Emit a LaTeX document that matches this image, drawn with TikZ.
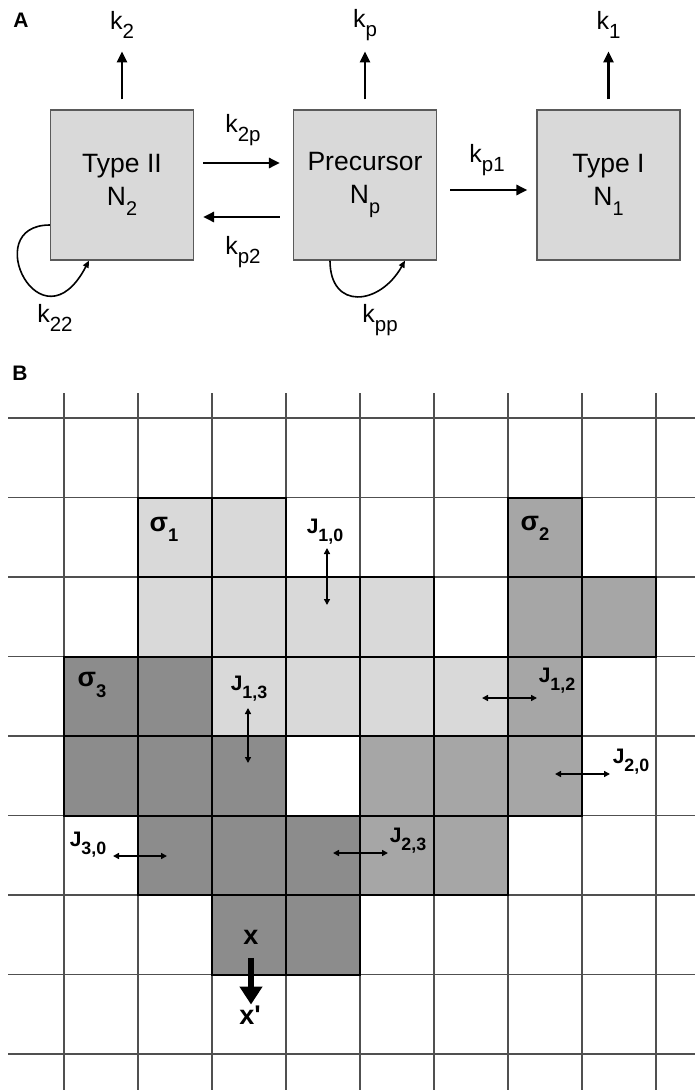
\documentclass[tikz,border=0pt]{standalone}
\usepackage{fontspec}
\setmainfont{Liberation Sans}
\usetikzlibrary{arrows.meta,positioning,calc}
\definecolor{BoxGray}{HTML}{D9D9D9}
\definecolor{EdgeGray}{HTML}{5A5A5A}
\definecolor{CellLight}{HTML}{D9D9D9}
\definecolor{CellMid}{HTML}{A6A6A6}
\definecolor{CellDark}{HTML}{8C8C8C}
\definecolor{GridGray}{HTML}{505050}
\newcommand{\dn}[2][0.82]{\raisebox{-0.38em}{\scalebox{#1}{#2}}}

\begin{document}
\begin{tikzpicture}[x=1pt, y=-1pt,
  box/.style={rectangle, draw=EdgeGray, line width=1.2pt, fill=BoxGray,
              minimum width=143pt, minimum height=150pt, align=center,
              font=\fontsize{26.5}{33}\selectfont},
  rate/.style={font=\fontsize{25}{28}\selectfont, inner sep=1pt},
  panel/.style={font=\fontsize{21}{24}\selectfont\bfseries},
  lbl/.style={font=\fontsize{21}{24}\selectfont\bfseries, inner sep=1pt},
  sym/.style={font=\fontsize{27}{30}\selectfont\bfseries, inner sep=1pt},
  arr/.style={-{Triangle[length=11pt,width=10pt]}, line width=2.8pt},
  selfarr/.style={-{Triangle[length=7pt,width=6pt]}, line width=1.6pt},
  dbl/.style={{Triangle[length=6pt,width=6pt]}-{Triangle[length=6pt,width=6pt]}, line width=1.6pt},
  move/.style={-{Triangle[length=18pt,width=22pt]}, line width=6pt},
  gridline/.style={draw=GridGray, line width=1.5pt},
  sig1/.style={fill=CellLight, draw=black, line width=2pt},
  sig2/.style={fill=CellMid, draw=black, line width=2pt},
  sig3/.style={fill=CellDark, draw=black, line width=2pt}
]
\fill[white] (0,0) rectangle (695,1090);
\useasboundingbox (0,0) rectangle (695,1090);

\node[panel] (labA) at (21,20) {A};
\node[box] (t2)  at (122,185)   {Type II\\N\dn[0.75]{2}};
\node[box] (pre) at (365,185)   {Precursor\\N\dn[0.75]{p}};
\node[box] (t1)  at (608.5,185) {Type I\\N\dn[0.75]{1}};

\node[rate] (k2)  at (122,25)   {k\dn{2}};
\node[rate] (kp)  at (365,25)   {k\dn{p}};
\node[rate] (k1)  at (608.5,25) {k\dn{1}};
\node[rate] (k2p) at (243,130)  {k\dn{2p}};
\node[rate] (kp2) at (243,252)  {k\dn{p2}};
\node[rate] (kp1) at (487,160)  {k\dn{p1}};
\node[rate] (k22) at (55,318)   {k\dn{22}};
\node[rate] (kpp) at (380,320)  {k\dn{pp}};

\draw[arr] ([yshift=10pt]t2.north) -- ([yshift=58pt]t2.north);
\draw[arr] ([yshift=10pt]pre.north) -- ([yshift=58pt]pre.north);
\draw[arr] ([yshift=10pt]t1.north) -- ([yshift=58pt]t1.north);
\draw[arr] ([xshift=9pt,yshift=22pt]t2.east) -- ([xshift=-13pt,yshift=22pt]pre.west);
\draw[arr] ([xshift=-13pt,yshift=-32pt]pre.west) -- ([xshift=9pt,yshift=-32pt]t2.east);
\draw[arr] ([xshift=13pt,yshift=-5pt]pre.east) -- ([xshift=-9pt,yshift=-5pt]t1.west);
\draw[selfarr] ([yshift=-40pt]t2.west) .. controls +(-72,0) and +(-48,92) .. ([xshift=-33pt]t2.south);
\draw[selfarr] ([xshift=-35pt]pre.south) .. controls +(0,50) and +(-25,45) .. ([xshift=40pt]pre.south);

\node[panel] (labB) at (20,373) {B};
\foreach \r in {0,...,8}
  \draw[gridline] (8,{418+79.5*\r}) -- (695,{418+79.5*\r});
\foreach \c in {0,...,8}
  \draw[gridline] ({64+74*\c},393) -- ({64+74*\c},1090);

\foreach \c/\r in {1/1,2/1,1/2,2/2,3/2,4/2,2/3,3/3,4/3,5/3}
  \draw[sig1] ({64+74*\c},{418+79.5*\r}) rectangle +(74,79.5);
\foreach \c/\r in {6/1,6/2,7/2,6/3,4/4,5/4,6/4,4/5,5/5}
  \draw[sig2] ({64+74*\c},{418+79.5*\r}) rectangle +(74,79.5);
\foreach \c/\r in {0/3,1/3,0/4,1/4,2/4,1/5,2/5,3/5,2/6,3/6}
  \draw[sig3] ({64+74*\c},{418+79.5*\r}) rectangle +(74,79.5);

\node[sym] (s1)  at (164,529) {σ\dn[0.68]{1}};
\node[sym] (s2)  at (535,528) {σ\dn[0.68]{2}};
\node[sym] (s3)  at (92,685)  {σ\dn[0.68]{3}};
\node[lbl] (j10) at (325,532) {J\dn[0.85]{1,0}};
\node[lbl] (j13) at (249,689) {J\dn[0.85]{1,3}};
\node[lbl] (j12) at (557,681) {J\dn[0.85]{1,2}};
\node[lbl] (j20) at (631,762) {J\dn[0.85]{2,0}};
\node[lbl] (j30) at (88,845)  {J\dn[0.85]{3,0}};
\node[lbl] (j23) at (408,841) {J\dn[0.85]{2,3}};
\node[sym] (xs)  at (251,937.5) {x};
\node[sym] (xt)  at (250,1015)  {x\textquotesingle};

\coordinate (j10a) at (327,548); \coordinate (j10b) at (327,605);
\coordinate (j13a) at (248,708); \coordinate (j13b) at (248,763);
\coordinate (j12a) at (482,698); \coordinate (j12b) at (537,698);
\coordinate (j20a) at (555,774); \coordinate (j20b) at (610,774);
\coordinate (j30a) at (113,856); \coordinate (j30b) at (167,856);
\coordinate (j23a) at (333,853); \coordinate (j23b) at (388,853);

\draw[dbl] (j10a) -- (j10b);
\draw[dbl] (j13a) -- (j13b);
\draw[dbl] (j12a) -- (j12b);
\draw[dbl] (j20a) -- (j20b);
\draw[dbl] (j30a) -- (j30b);
\draw[dbl] (j23a) -- (j23b);
\draw[move, shorten <=12pt] (xs) -- (xs|-xt.north);
\end{tikzpicture}
\end{document}
